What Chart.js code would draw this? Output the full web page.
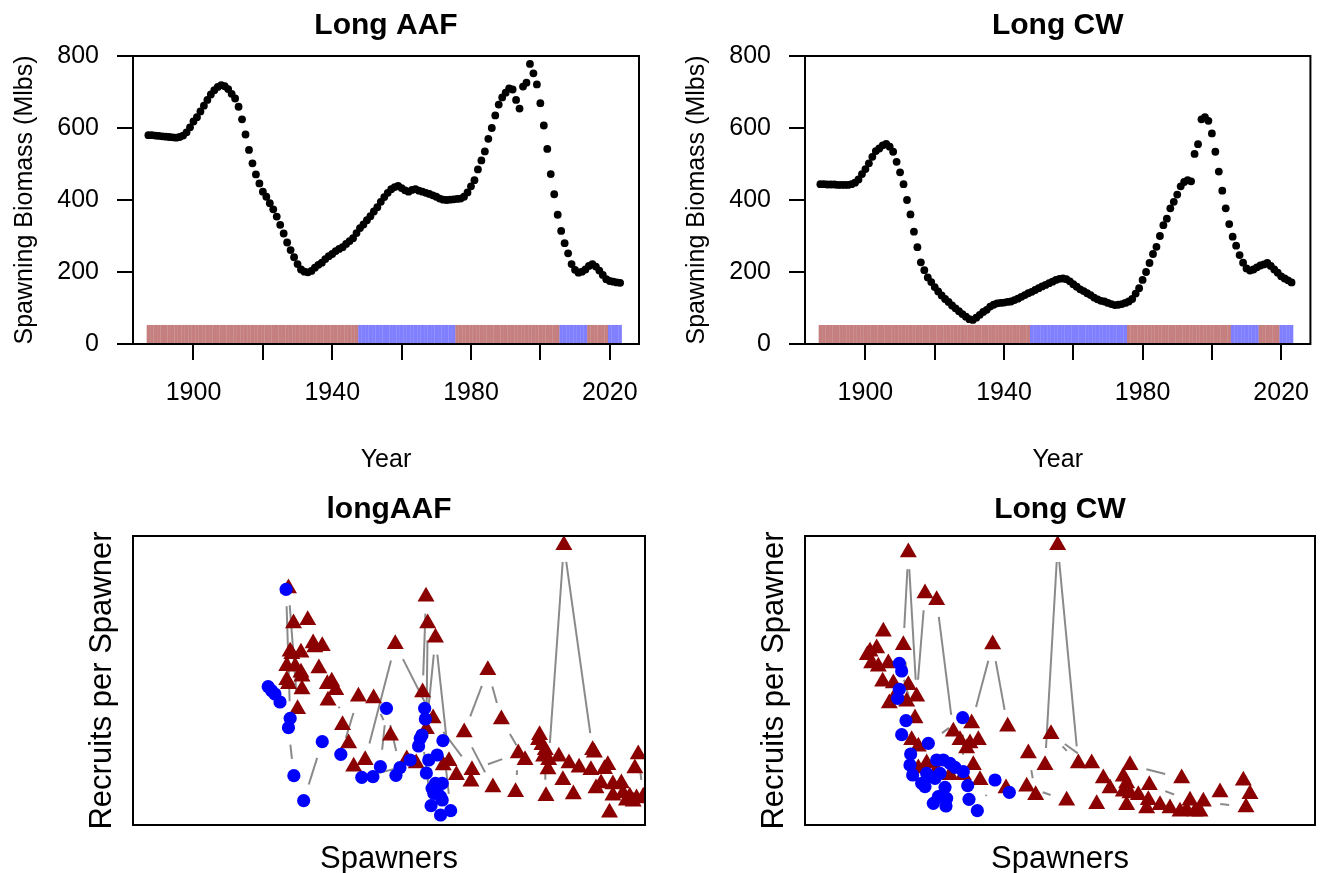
<!DOCTYPE html>
<html>
<head>
<meta charset="utf-8">
<script src="https://cdn.jsdelivr.net/npm/chart.js@4.4.1/dist/chart.umd.min.js"></script>
<style>
  html, body { margin: 0; padding: 0; background: #fff; overflow: hidden; }
  #page { position: relative; width: 1328px; height: 873px; overflow: hidden; background: #fff; }
  canvas { position: absolute; }
</style>
</head>
<body>
<div id="page">
  <canvas id="aafTop"></canvas>
  <canvas id="cwTop"></canvas>
  <canvas id="aafSR"></canvas>
  <canvas id="cwSR"></canvas>
</div>
<script>
// --- datos ---
const firstYear = 1887;
const years = Array.from({ length: 137 }, (_, i) => firstYear + i);

// biomasa reproductora (Mlbs), 1887-2023
const biomassAAF = [
  580, 580, 579, 578, 577, 576, 575, 574, 573, 575,
  579, 588, 602, 618, 630, 646, 662, 678, 693, 705,
  714, 719, 716, 708, 695, 682, 659, 624, 582, 539,
  502, 471, 446, 423, 409, 391, 374, 354, 331, 307,
  282, 261, 241, 222, 207, 201, 199, 203, 212, 220,
  226, 236, 244, 250, 258, 264, 269, 278, 286, 294,
  308, 322, 332, 344, 355, 368, 380, 395, 408, 420,
  430, 436, 439, 433, 427, 423, 428, 430, 426, 423,
  420, 417, 413, 409, 404, 401, 400, 401, 402, 403,
  404, 409, 421, 438, 455, 485, 510, 535, 570, 600,
  635, 665, 685, 698, 710, 707, 678, 654, 715, 726,
  778, 752, 721, 669, 607, 542, 472, 416, 359, 314,
  280, 252, 222, 206, 198, 201, 207, 217, 222, 215,
  204, 192, 180, 175, 173, 171, 170
];
const biomassCW = [
  444, 444, 443, 443, 443, 442, 442, 442, 442, 444,
  448, 457, 472, 486, 502, 520, 536, 543, 552, 556,
  548, 534, 506, 477, 444, 400, 360, 312, 269, 227,
  205, 185, 172, 158, 146, 135, 125, 117, 107, 99,
  91, 83, 76, 69, 67, 73, 81, 89, 95, 104,
  109, 113, 114, 115, 117, 118, 122, 126, 131, 136,
  141, 145, 150, 155, 160, 164, 169, 173, 178, 181,
  182, 180, 174, 166, 159, 152, 147, 141, 136, 129,
  124, 120, 118, 114, 111, 108, 109, 111, 114, 118,
  125, 140, 155, 178, 200, 225, 250, 270, 300, 330,
  348, 377, 395, 415, 438, 450, 455, 452, 528, 555,
  624, 630, 620, 585, 534, 479, 426, 377, 333, 298,
  273, 247, 226, 210, 204, 207, 213, 218, 221, 225,
  217, 207, 198, 188, 182, 177, 171
];

// regimenes (W = calido, C = frio)
const regimeStarts = [1887, 1948, 1976, 2006, 2014, 2020];
const regimeKinds = ['W', 'C', 'W', 'C', 'W', 'C'];
const regimeBarHeight = 52;

const yearTicks = [1900, 1920, 1940, 1960, 1980, 2000, 2020];
const yearTickLabels = ['1900', '', '1940', '', '1980', '', '2020'];
const yearRange = [1882.56, 2028.44];
const biomassTicks = [0, 200, 400, 600, 800];

// reclutas por reproductor vs reproductores (unidades relativas), en orden del trazo
const aafSpawners = [
  1203, 1210, 1200, 1215, 1260, 1290, 1303, 1272, 1320, 1355,
  1395, 1405, 1485, 1495, 1510, 1490, 1480, 1470, 1460, 1450,
  1445, 1420, 1420, 1410, 1385, 1370, 1365, 1360, 1275, 1230,
  1228, 1222, 1220, 1160, 1090, 1050, 980, 1065, 1132, 1140,
  1003, 888, 776, 687, 653, 638, 620, 600, 577, 575,
  588, 550, 560, 538, 533, 517, 475, 497, 465, 470,
  455, 480, 497, 500, 455, 460,
  435, 420, 410, 400,
  500, 487, 460,
  453, 465, 460, 476, 505, 560, 615,
  667, 712, 762, 810, 838,
  677, 710, 732, 750, 790, 778, 820, 845, 868, 875,
  900, 917, 940, 910, 915, 910, 900, 915, 895, 890,
  885, 882, 855, 850, 865, 863,
  857, 867, 872, 868, 895, 935, 918, 957, 1000
];
const aafRecruitsPerSpawner = [
  2.70, 2.40, 2.55, 2.05, 2.05, 1.85, 0.92, 1.35, 1.72, 1.65,
  1.68, 1.80, 1.70, 2.12, 0.85, 0.80, 0.70, 0.85, 0.73, 0.95,
  1.25, 1.22, 0.88, 0.37, 1.25, 1.10, 2.17, 2.25, 8.40, 1.95,
  1.67, 0.87, 2.25, 1.95, 3.17, 4.65, 2.78, 1.13, 0.99, 2.15,
  1.65, 3.20, 5.43, 1.95, 1.75, 2.45, 3.00, 4.05, 3.73, 4.23,
  4.30, 4.70, 5.37, 5.33, 5.45, 6.15, 6.05, 5.17, 5.20, 5.13,
  4.77, 4.75, 4.57, 4.45, 4.35, 4.23,
  3.69, 3.93, 4.03, 4.15,
  4.07, 3.48, 7.10,
  7.07, 3.20, 2.92, 1.48, 0.73, 2.50, 2.12,
  3.85, 3.80, 2.68, 1.97, 1.85,
  1.43, 1.45, 1.75, 3.50, 1.72, 1.49, 1.95, 2.37, 1.56, 1.95,
  2.10, 2.53, 0.43, 0.30, 0.75, 0.85, 1.00, 1.25, 1.25, 0.95,
  1.10, 0.58, 2.70, 2.60, 3.18, 3.50,
  3.98, 6.85, 6.05, 2.88, 5.62, 1.92, 1.79, 1.50, 1.30
];
const aafRegime =
  'WWWWWWWWWW' + 'WWWWWWWWWW' + 'WWWWWWWWWW' + 'WWWWWWWWWW' + 'WWWWWWWWWW' + 'WWWWWWWWWW' +
  'WWWWWW' +
  'CCCC' +
  'WWW' +
  'CCCCCCC' +
  'WWWWW' +
  'CCCCCCCCCC' + 'CCCCCCCCCC' + 'CCCCCC' +
  'WWWWWWWWW';

const cwSpawners = [
  195, 187, 215, 235, 200, 220, 250, 233, 265, 253,
  275, 305, 310, 295, 310, 335, 360, 395, 445, 465,
  495, 485, 520, 500, 563, 608, 670, 692, 720, 758,
  820, 738, 860, 895, 915, 975, 1130, 1033, 1155, 1195,
  1323, 1335, 1315, 1245, 1185, 1170, 1145, 1125, 1095, 1065,
  1025, 1030, 1000, 975, 955, 965, 955, 965, 875, 785,
  665, 603, 525, 505, 475, 435, 395, 365, 340, 340,
  320, 330,
  283, 290, 283, 278, 303, 290, 317, 315, 323, 350,
  360, 365, 375, 390, 405, 395, 415, 435, 450, 475,
  473, 370, 420, 400, 385, 423, 425, 488, 492, 517,
  570, 613
];
const cwRecruitsPerSpawner = [
  5.20, 5.10, 5.30, 5.80, 4.85, 4.75, 4.85, 4.30, 4.25, 3.65,
  3.95, 3.70, 4.20, 5.40, 8.18, 3.85, 6.95, 6.75, 2.80, 2.55,
  2.45, 2.30, 2.55, 3.05, 5.42, 2.95, 2.15, 0.90, 1.80, 8.40,
  1.85, 2.73, 1.85, 1.40, 1.10, 1.80, 1.40, 1.20, 0.73, 0.70,
  0.53, 0.93, 1.33, 0.98, 0.40, 0.40, 0.45, 0.40, 0.50, 0.60,
  0.50, 0.75, 0.90, 0.95, 1.00, 1.25, 1.45, 0.60, 0.63, 0.73,
  1.15, 1.10, 1.35, 1.80, 1.50, 1.50, 1.65, 1.85, 1.70, 2.35,
  2.55, 3.20,
  4.85, 4.62, 4.07, 3.80, 3.13, 2.71, 2.13, 1.80, 1.50, 1.25,
  1.15, 1.55, 1.45, 1.40, 1.55, 1.95, 1.95, 1.85, 1.73, 1.60,
  3.22, 2.45, 1.13, 0.85, 0.65, 0.57, 0.80, 1.18, 0.77, 0.43,
  1.35, 0.98
];
const cwRegime =
  'WWWWWWWWWW' + 'WWWWWWWWWW' + 'WWWWWWWWWW' + 'WWWWWWWWWW' + 'WWWWWWWWWW' + 'WWWWWWWWWW' + 'WWWWWWWWWW' +
  'WW' +
  'CCCCCCCCCC' + 'CCCCCCCCCC' + 'CCCCCCCCCC' + 'CC';

// --- estilo ---
const FONT = "'Liberation Sans', Arial, Helvetica, sans-serif";
const warmFill = 'rgba(139,0,0,0.5)';
const coolFill = 'rgba(0,0,255,0.5)';

Chart.defaults.font.family = FONT;
Chart.defaults.color = '#000';

const boxPlugin = {
  id: 'box',
  afterDraw(chart) {
    const { ctx, chartArea: a } = chart;
    ctx.save();
    ctx.strokeStyle = '#000';
    ctx.lineWidth = 2;
    ctx.strokeRect(a.left, a.top, a.right - a.left, a.bottom - a.top);
    ctx.restore();
  }
};

function place(id, left, top, width, height) {
  const c = document.getElementById(id);
  c.width = width;
  c.height = height;
  c.style.left = left + 'px';
  c.style.top = top + 'px';
  return c;
}

function regimeOf(year) {
  let k = regimeKinds[0];
  regimeStarts.forEach((s, i) => { if (year >= s) k = regimeKinds[i]; });
  return k;
}

function titleOpts(text, padTop) {
  return {
    display: true,
    text: text,
    fullSize: false,
    color: '#000',
    font: { family: FONT, size: 30, weight: 'bold' },
    padding: { top: padTop, bottom: 20 - padTop }
  };
}

const tickGrid = {
  display: true,
  drawOnChartArea: false,
  drawTicks: true,
  offset: false,
  tickLength: 16,
  color: '#000',
  lineWidth: 2
};

function biomassChart(id, left, axisW, rightPad, title, values, yTitlePad) {
  const canvas = place(id, left, 0, 664, 480);
  return new Chart(canvas, {
    type: 'scatter',
    data: {
      datasets: [
        {
          data: years.map((y, i) => ({ x: y, y: values[i] })),
          pointRadius: 3.9,
          pointBackgroundColor: '#000',
          pointBorderWidth: 0
        },
        {
          type: 'bar',
          data: years.map(y => ({ x: y, y: regimeBarHeight })),
          backgroundColor: years.map(y => regimeOf(y) === 'W' ? warmFill : coolFill),
          barThickness: 2.8,
          borderWidth: 0
        }
      ]
    },
    options: {
      responsive: false,
      animation: false,
      devicePixelRatio: 1,
      layout: { padding: { left: 0, right: rightPad, top: 0, bottom: 0 } },
      plugins: {
        legend: { display: false },
        tooltip: { enabled: false },
        title: titleOpts(title, 8)
      },
      scales: {
        x: {
          type: 'linear',
          offset: false,
          min: yearRange[0],
          max: yearRange[1],
          afterBuildTicks: s => { s.ticks = yearTicks.map(v => ({ value: v })); },
          afterFit: s => { s.height = 136; },
          ticks: {
            callback: (v, i) => yearTickLabels[i],
            font: { family: FONT, size: 25 },
            color: '#000',
            padding: 18,
            maxRotation: 0,
            autoSkip: false
          },
          grid: tickGrid,
          border: { display: false },
          title: {
            display: true,
            text: 'Year',
            color: '#000',
            font: { family: FONT, size: 25 },
            padding: { top: 0, bottom: 5 }
          }
        },
        y: {
          min: biomassTicks[0],
          max: biomassTicks[biomassTicks.length - 1],
          afterBuildTicks: s => { s.ticks = biomassTicks.map(v => ({ value: v })); },
          afterFit: s => { s.width = axisW; },
          ticks: {
            font: { family: FONT, size: 25 },
            color: '#000',
            padding: 18
          },
          grid: tickGrid,
          border: { display: false },
          title: {
            display: true,
            text: 'Spawning Biomass (Mlbs)',
            color: '#000',
            font: { family: FONT, size: 25 },
            padding: { top: yTitlePad, bottom: 0 }
          }
        }
      }
    },
    plugins: [boxPlugin]
  });
}

// hueco alrededor de cada punto, como type = "b" en R
function gapDash(ctx) {
  const L = Math.hypot(ctx.p1.x - ctx.p0.x, ctx.p1.y - ctx.p0.y);
  const g = 17;
  if (L <= 2 * g + 1) return [0, L + 50];
  return [0, g, L - 2 * g, g + 50];
}

function srChart(id, left, axisW, rightPad, title, xs, ys, regime, xMax, yTitlePad) {
  const canvas = place(id, left, 480, 664, 410);
  const pts = xs.map((x, i) => ({ x: x, y: ys[i] }));
  const cool = pts.filter((p, i) => regime.charAt(i) === 'C');
  const warm = pts.filter((p, i) => regime.charAt(i) === 'W');
  return new Chart(canvas, {
    type: 'scatter',
    data: {
      datasets: [
        {
          data: cool,
          pointStyle: 'circle',
          pointRadius: 6.6,
          pointBackgroundColor: '#0000FF',
          pointBorderWidth: 0,
          clip: 0
        },
        {
          data: warm,
          pointStyle: 'triangle',
          pointRadius: 9.8,
          pointBackgroundColor: '#8B0000',
          pointBorderWidth: 0,
          clip: 0
        },
        {
          data: pts,
          showLine: true,
          pointRadius: 0,
          borderColor: '#8a8a8a',
          borderWidth: 2,
          segment: { borderDash: gapDash },
          clip: 0
        }
      ]
    },
    options: {
      responsive: false,
      animation: false,
      devicePixelRatio: 1,
      layout: { padding: { left: 0, right: rightPad, top: 0, bottom: 0 } },
      plugins: {
        legend: { display: false },
        tooltip: { enabled: false },
        title: titleOpts(title, 12)
      },
      scales: {
        x: {
          type: 'linear',
          min: 0,
          max: xMax,
          afterFit: s => { s.height = 65; },
          ticks: { display: false },
          grid: { display: false, drawTicks: false },
          border: { display: false },
          title: {
            display: true,
            text: 'Spawners',
            color: '#000',
            font: { family: FONT, size: 31 },
            padding: { top: 0, bottom: 12 }
          }
        },
        y: {
          min: 0,
          max: 8.67,
          afterFit: s => { s.width = axisW; },
          ticks: { display: false },
          grid: { display: false, drawTicks: false },
          border: { display: false },
          title: {
            display: true,
            text: 'Recruits per Spawner',
            color: '#000',
            font: { family: FONT, size: 31 },
            padding: { top: yTitlePad, bottom: 0 }
          }
        }
      }
    },
    plugins: [boxPlugin]
  });
}

biomassChart('aafTop', 0, 133, 25, 'Long AAF', biomassAAF, 10);
biomassChart('cwTop', 664, 141, 15, 'Long CW', biomassCW, 18);
srChart('aafSR', 0, 133, 19, 'longAAF', aafSpawners, aafRecruitsPerSpawner, aafRegime, 1515, 84);
srChart('cwSR', 664, 141, 13, 'Long CW', cwSpawners, cwRecruitsPerSpawner, cwRegime, 1530, 92);
</script>
</body>
</html>
